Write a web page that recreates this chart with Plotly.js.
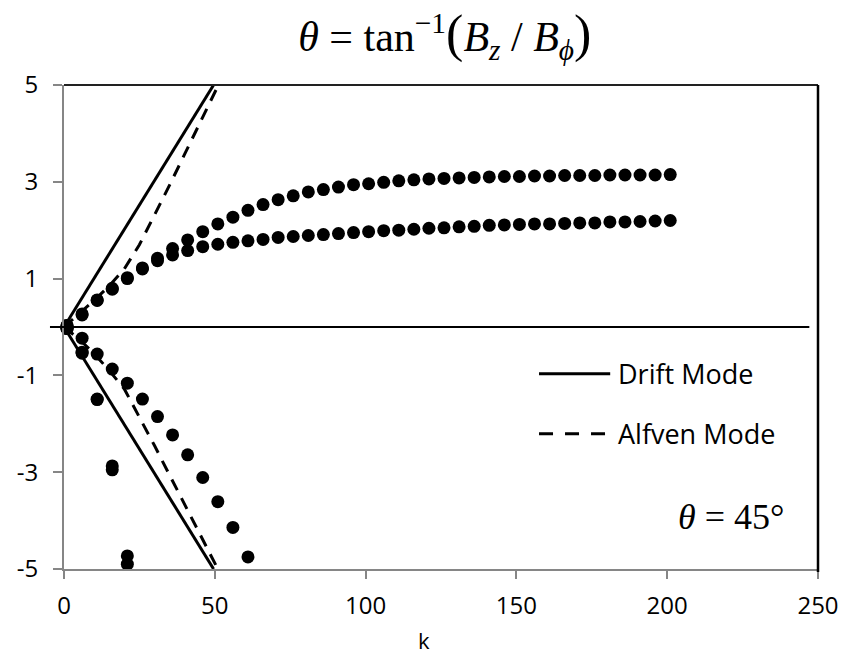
<!DOCTYPE html>
<html>
<head>
<meta charset="utf-8">
<script src="https://cdn.plot.ly/plotly-3.0.1.min.js"></script>
<style>html,body{margin:0;padding:0;background:#fff;}#chart{width:859px;height:658px;}</style>
</head>
<body>
<div id="chart"></div>
<script>
// ---- data ----
const kPos = [1,6,11,16,21,26,31,36,41,46,51,56,61,66,71,76,81,86,91,96,101,106,111,116,121,126,131,136,141,146,151,156,161,166,171,176,181,186,191,196,201];
const rootA = [0.03,0.27,0.56,0.80,1.02,1.22,1.42,1.62,1.80,1.97,2.13,2.27,2.41,2.53,2.63,2.71,2.79,2.84,2.89,2.94,2.96,2.99,3.02,3.04,3.06,3.07,3.08,3.09,3.10,3.11,3.11,3.12,3.12,3.13,3.13,3.13,3.14,3.14,3.14,3.14,3.15];
const rootB = [0.03,0.25,0.55,0.78,1.00,1.20,1.37,1.49,1.58,1.66,1.71,1.75,1.78,1.81,1.85,1.87,1.89,1.91,1.93,1.95,1.97,1.99,2.00,2.02,2.04,2.05,2.07,2.08,2.10,2.11,2.12,2.13,2.13,2.14,2.15,2.15,2.17,2.17,2.18,2.19,2.20];
const kNegC = [1,6,11,16,21,26,31,36,41,46,51,56,61];
const rootC = [-0.03,-0.23,-0.56,-0.87,-1.16,-1.49,-1.85,-2.23,-2.64,-3.11,-3.61,-4.14,-4.75];
const kNegD = [1,6,11,16,21];
const rootD = [-0.03,-0.52,-1.49,-2.87,-4.73];
const rootE = [-0.03,-0.54,-1.50,-2.95,-4.90];

const kDrift = [0,49.6];
const driftUp = [0,5];
const driftDown = [0,-5];

const kAlfUp = [0,5,10,15,20,25,30,35,40,45,50,51.2];
const alfUp = [0,0.27,0.55,0.85,1.2,1.7,2.3,2.93,3.57,4.21,4.85,5.0];
const kAlfDown = [0,5,10,15,20,25,30,35,40,45,50,51];
const alfDown = [0,-0.25,-0.55,-0.9,-1.28,-1.85,-2.45,-3.06,-3.67,-4.28,-4.89,-5.0];

const xTickVals = [0,50,100,150,200,250];
const yTickVals = [-5,-3,-1,1,3,5];
const yTickText = ['-5','-3','-1','1','3','5'];
const legendNames = ['Drift Mode','Alfven Mode'];

// ---- traces ----
const dot = {color:'#000', size:13, symbol:'circle'};
function dots(x,y){return {x:x,y:y,type:'scatter',mode:'markers',marker:dot,cliponaxis:false,showlegend:false,hoverinfo:'skip'};}
function line(x,y,dash){return {x:x,y:y,type:'scatter',mode:'lines',line:{color:'#000',width:3,dash:dash},showlegend:false,hoverinfo:'skip'};}

const data = [
  line(kDrift,driftUp,'solid'),
  line(kDrift,driftDown,'solid'),
  line(kAlfUp,alfUp,'12px,9px'),
  line(kAlfDown,alfDown,'12px,9px'),
  dots(kPos,rootA),
  dots(kPos,rootB),
  dots(kNegC,rootC),
  dots(kNegD,rootD),
  dots(kNegD,rootE)
];

const sans = 'Open Sans, Liberation Sans, sans-serif';
const serif = 'Liberation Serif, Times New Roman, serif';

const layout = {
  width:859, height:658,
  margin:{l:64, r:41, t:85, b:89},
  paper_bgcolor:'#fff', plot_bgcolor:'#fff',
  showlegend:false,
  title:{
    text:'<i>θ</i> = tan<sup>−1</sup><span style="font-size:52px">(</span><i>B</i><sub><i>z</i></sub> / <i>B</i><sub><i>ϕ</i></sub><span style="font-size:52px">)</span>',
    font:{family:serif, size:42, color:'#000'},
    xref:'paper', x:0.505, xanchor:'center',
    yref:'container', y:0.945, yanchor:'middle'
  },
  xaxis:{
    range:[0,250], tickvals:xTickVals, ticks:'outside', ticklen:8, tickwidth:2, tickcolor:'#868686',
    showline:true, linecolor:'#868686', linewidth:2, showgrid:false, zeroline:false,
    tickfont:{family:sans, size:24, color:'#000'}, ticklabelstandoff:6,
    fixedrange:true
  },
  yaxis:{
    range:[-5,5], tickvals:yTickVals, ticktext:yTickText, ticks:'outside', ticklen:9, tickwidth:2, tickcolor:'#868686',
    showline:true, linecolor:'#868686', linewidth:2, showgrid:false, zeroline:false,
    tickfont:{family:sans, size:24, color:'#000'}, ticklabelstandoff:10,
    fixedrange:true
  },
  shapes:[
    {type:'line', xref:'paper', yref:'y', x0:-0.0186, x1:0.9885, y0:0, y1:0, line:{color:'#000', width:2}},
    {type:'line', xref:'paper', yref:'paper', x0:0, x1:1, y0:1, y1:1, line:{color:'#222', width:2}},
    {type:'line', xref:'paper', yref:'paper', x0:1, x1:1, y0:-0.006, y1:1, line:{color:'#000', width:2.5}},
    {type:'line', xref:'paper', yref:'paper', x0:0.630, x1:0.7244, y0:0.4033, y1:0.4033, line:{color:'#000', width:3}},
    {type:'line', xref:'paper', yref:'paper', x0:0.630, x1:0.7244, y0:0.2794, y1:0.2794, line:{color:'#000', width:3, dash:'14px,12px'}}
  ],
  annotations:[
    {text:legendNames[0], xref:'paper', yref:'paper', x:0.7324, y:0.4033, xanchor:'left', yanchor:'middle', showarrow:false, font:{family:sans, size:27, color:'#000'}},
    {text:legendNames[1], xref:'paper', yref:'paper', x:0.7324, y:0.2794, xanchor:'left', yanchor:'middle', showarrow:false, font:{family:sans, size:27, color:'#000'}},
    {text:'<i>θ</i> = 45°', xref:'paper', yref:'paper', x:0.958, y:0.108, xanchor:'right', yanchor:'middle', showarrow:false, font:{family:serif, size:36, color:'#000'}},
    {text:'k', xref:'paper', yref:'paper', x:0.477, y:-0.147, xanchor:'center', yanchor:'middle', showarrow:false, font:{family:sans, size:22, color:'#000'}}
  ]
};

Plotly.newPlot('chart', data, layout, {staticPlot:true, displayModeBar:false});
</script>
</body>
</html>
